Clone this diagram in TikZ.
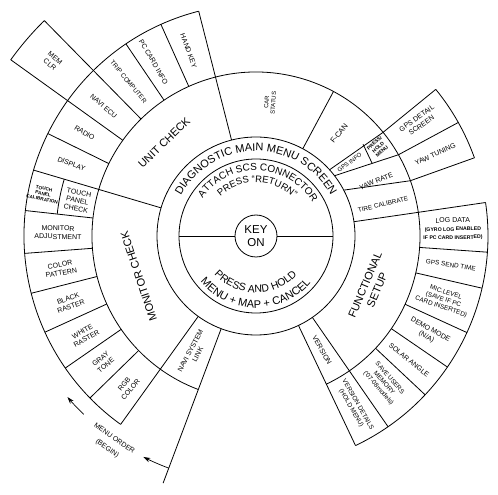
\documentclass[tikz,border=0pt]{standalone}
\usepackage{fontspec}
\setmainfont{Liberation Sans}
\usepackage{tikz}
\usetikzlibrary{arrows.meta, decorations.text}

\newcommand{\ringfont}{\fontsize{11}{13}\selectfont}
\newcommand{\attachfont}{\fontsize{10}{12}\selectfont}
\newcommand{\returnfont}{\fontsize{9.5}{11}\selectfont}
\newcommand{\holdfont}{\fontsize{10.5}{12}\selectfont}

\begin{document}
\begin{tikzpicture}[x=1pt, y=1pt, line width=0.8pt,
  boxtext/.style={font=\fontsize{7}{8.3}\selectfont, align=center, inner sep=0pt},
  smalltext/.style={font=\fontsize{6.4}{7.6}\selectfont, align=center, inner sep=0pt},
  tinytext/.style={font=\fontsize{4.7}{5.4}\selectfont\bfseries, align=center, inner sep=0pt},
  bigtext/.style={font=\fontsize{11}{13}\selectfont, align=center, inner sep=0pt},
  arrow/.style={-{Stealth[length=7pt, width=4.5pt]}, line width=0.7pt}
]
\useasboundingbox (-256,-259) rectangle (242,236);

% centre
\node[draw, circle, minimum size=42pt, inner sep=0pt, align=center,
      font=\fontsize{11.5}{12.5}\selectfont] (keyon) at (0,0) {KEY\\ON};
\draw (0,0) circle[radius=77];
\draw (0,0) circle[radius=99];
\draw (180:77) -- (keyon.west);
\draw (keyon.east) -- (0:77);

% texts along the main menu ring
\path[decorate, decoration={text along path, text align=center,
      text={|\ringfont|DIAGNOSTIC MAIN MENU SCREEN}}]
  (175:85) arc[start angle=175, end angle=5, radius=85];
\path[decorate, decoration={text along path, text align=center,
      text={|\attachfont|ATTACH SCS CONNECTOR}}]
  (172.5:65.5) arc[start angle=172.5, end angle=2.5, radius=65.5];
\path[decorate, decoration={text along path, text align=center,
      text={|\returnfont|PRESS “RETURN”}}]
  (168.5:53.5) arc[start angle=168.5, end angle=8.5, radius=53.5];
\path[decorate, decoration={text along path, text align=center,
      text={|\holdfont|PRESS AND HOLD}}]
  (-170.5:56.5) arc[start angle=-170.5, end angle=-10.5, radius=56.5];
\path[decorate, decoration={text along path, text align=center,
      text={|\ringfont|MENU + MAP + CANCEL}}]
  (-175.5:72) arc[start angle=-175.5, end angle=-5.5, radius=72];

% rings
\draw (-64.6:164) arc[start angle=-64.6, end angle=249.4, radius=164];
\draw (104.3:232) arc[start angle=104.3, end angle=234.3, radius=232];
\draw (19.7:232) arc[start angle=19.7, end angle=39.2, radius=232];
\draw (-64.6:232) arc[start angle=-64.6, end angle=8.3, radius=232];
\draw (134.5:302) arc[start angle=134.5, end angle=144.3, radius=302];
\draw (163.5:200) arc[start angle=163.5, end angle=173.7, radius=200];

% dividers
\foreach \a in {163.5, 104.3, -125.7, -55.3, -64.6, 8.3}
  \draw (\a:99) -- (\a:232);
\draw (61.8:99) -- (61.8:164);
\foreach \a in {114.2, 124.1, 153.8, 173.7, 184.3, 194.3, 204.5, 214.7, 224.3,
                -4, -13, -24.6, -34.4, -43.2}
  \draw (\a:164) -- (\a:232);
\foreach \a in {134.5, 144.3}
  \draw (\a:164) -- (\a:302);
\draw (42:99) -- (39.2:164) -- (39.2:232);
\draw (37.5:99) -- (29.7:164) -- (29.3:232);
\draw (27.6:99) -- (19.7:164) -- (19.7:232);
\draw (40.6:141) -- (32:137);

% menu order
\draw (-110.6:99) -- (-110.6:264);
\coordinate (order1) at (-110.6:248);
\coordinate (order2) at (-134:248);
\draw[arrow] (order1) arc[start angle=-110.6, end angle=-117, radius=248];
\draw[arrow] (order2) arc[start angle=-134, end angle=-139.5, radius=248];
\node[boxtext, rotate=-35] (menuorder) at (-125:253.5) {MENU ORDER\\[4pt](BEGIN)};

% section labels
\node[bigtext, rotate=44] (unitcheck) at (134.5:131) {UNIT CHECK};
\node[bigtext, rotate=108.5] (monitorcheck) at (-161:124) {MONITOR CHECK};
\node[bigtext, rotate=67] (funcsetup) at (-24:126) {FUNCTIONAL\\SETUP};

% unit check items
\node[boxtext, rotate=-70] (handkey) at (110:197) {HAND KEY};
\node[boxtext, rotate=-59.5] (pccard) at (120.5:202) {PC CARD INFO};
\node[smalltext, rotate=-50.4] (tripcomp) at (129.6:200) {TRIP COMPUTER};
\node[boxtext, rotate=-40.4] (naviecu) at (139.6:200) {NAVI ECU};
\node[boxtext, rotate=-40.6] (memclr) at (139.4:268) {MEM\\CLR};
\node[boxtext, rotate=-31] (radio) at (149:200) {RADIO};
\node[boxtext, rotate=-21.3] (display) at (158.7:198) {DISPLAY};

% monitor check items
\node[boxtext, rotate=-11] (tpcheck) at (168.8:182) {TOUCH\\PANEL\\CHECK};
\node[tinytext, rotate=-11] (tpcal) at (168.8:217) {TOUCH\\PANEL\\CALIBRATION};
\node[boxtext, rotate=-1] (monadj) at (179:198) {MONITOR\\ADJUSTMENT};
\node[boxtext, rotate=9.5] (colorpat) at (-170.5:198) {COLOR\\PATTERN};
\node[boxtext, rotate=19.6] (blackras) at (-160.4:198) {BLACK\\RASTER};
\node[boxtext, rotate=30] (whiteras) at (-150:198) {WHITE\\RASTER};
\node[boxtext, rotate=39.5] (graytone) at (-140.5:198) {GRAY\\TONE};
\node[boxtext, rotate=49.5] (rgbcolor) at (-130.5:198) {RGB\\COLOR};
\node[boxtext, rotate=62] (navilink) at (-118:132) {NAVI SYSTEM\\LINK};

% functional setup items
\node[boxtext, rotate=-60] (version) at (-60:132) {VERSION};
\node[smalltext, rotate=-60] (verdetails) at (-60:197) {VERSION DETAILS\\(HOLD MENU)};
\node[smalltext, rotate=-49] (saveusers) at (-49:195) {SAVE USERS\\MEMORY\\(’07-08models)};
\node[boxtext, rotate=-39] (solar) at (-39:197) {SOLAR ANGLE};
\node[boxtext, rotate=-29.5] (demomode) at (-29.5:198) {DEMO MODE\\(N/A)};
\node[smalltext, rotate=-18.8] (miclevel) at (-18.8:198) {MIC.LEVEL\\(SAVE IF PC\\CARD INSERTED)};
\node[smalltext, rotate=-8.5] (gpssend) at (-8.5:197) {GPS SEND TIME};
\node[boxtext, rotate=1] (logdata) at (2:197)
  {LOG DATA\\{\fontsize{5.2}{6.6}\selectfont\bfseries (GYRO LOG ENABLED}\\{\fontsize{5.2}{6.6}\selectfont\bfseries IF PC CARD INSERTED)}};

% right side items
\node[smalltext, rotate=14] (tirecal) at (14:131) {TIRE CALIBRATE};
\node[boxtext, rotate=22] (yawrate) at (24.5:132) {YAW RATE};
\node[boxtext, rotate=24.5] (yawtuning) at (24.5:197) {YAW TUNING};
\node[smalltext, font=\fontsize{6}{7}\selectfont, rotate=37] (gpsinfo) at (38.2:119) {GPS INFO};
\node[tinytext, font=\fontsize{5}{5.6}\selectfont\bfseries, rotate=42] (presshold) at (36:151) {PRESS/\\HOLD\\MENU};
\node[boxtext, rotate=35] (gpsdetail) at (35:199) {GPS DETAIL\\SCREEN};
\node[boxtext, font=\fontsize{7.5}{8.5}\selectfont, rotate=51] (fcan) at (51:132) {F-CAN};
\node[boxtext, font=\fontsize{6}{6.8}\selectfont, rotate=86] (carstatus) at (84:134) {CAR\\STATUS};
\end{tikzpicture}
\end{document}
